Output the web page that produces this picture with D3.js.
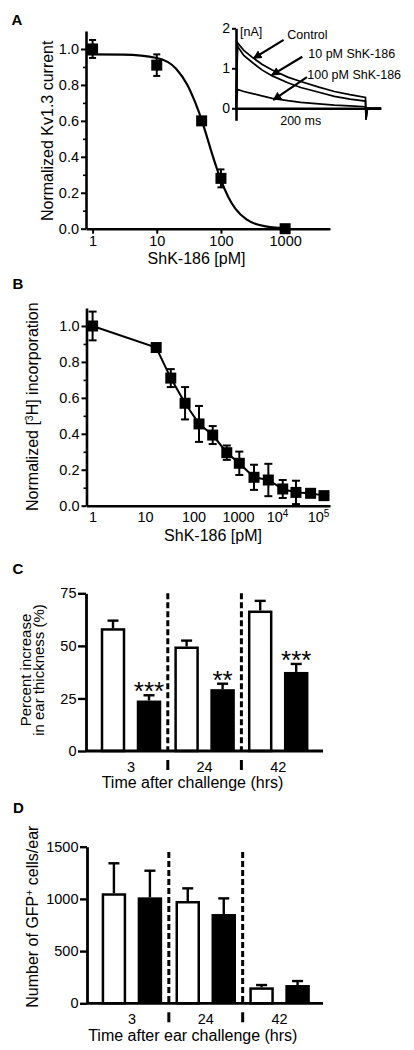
<!DOCTYPE html>
<html><head><meta charset="utf-8">
<script src="https://cdn.jsdelivr.net/npm/d3@7"></script>
<style>
body{margin:0;background:#fff;}
svg{display:block;background:#fff;}
</style></head><body>
<svg id="fig" width="414" height="1050"></svg>
<script>
// ================= DATA =================
// Panel A: Kv1.3 current vs ShK-186
const aConc = [1, 10, 50, 100, 1000];
const aCurrent = [1.0, 0.91, 0.60, 0.28, 0.0];
const aErr = [0.05, 0.06, 0, 0.05, 0];
const aFitConc = [0.79, 1, 3, 10, 20, 30, 40, 50, 60, 70, 85, 100, 130, 170, 250, 350, 500, 700, 1000];
const aFitCurrent = [0.97, 0.97, 0.968, 0.95, 0.89, 0.80, 0.70, 0.605, 0.515, 0.436, 0.342, 0.27, 0.177, 0.109, 0.052, 0.026, 0.013, 0.006, 0.003];
const aTicks = [1, 10, 100, 1000];
const aTickLabels = ["1", "10", "100", "1000"];
const normTicks = [0, 0.2, 0.4, 0.6, 0.8, 1.0];
const normTickLabels = ["0.0", "0.2", "0.4", "0.6", "0.8", "1.0"];
const normMinor = [0.1, 0.3, 0.5, 0.7, 0.9];

// Inset: current traces (nA) vs time (ms)
const insetTime    = [0, 3, 15, 34, 50, 70, 100, 125, 160, 190, 220, 250, 251, 254, 280];
const insetControl = [0, 1.64, 1.45, 1.25, 1.10, 0.96, 0.78, 0.67, 0.53, 0.42, 0.34, 0.27, -0.29, 0, 0];
const insetTen     = [0, 1.55, 1.32, 1.12, 0.96, 0.81, 0.64, 0.52, 0.40, 0.30, 0.23, 0.18, -0.27, 0, 0];
const insetHundred = [0, 0.47, 0.42, 0.36, 0.31, 0.25, 0.19, 0.15, 0.11, 0.08, 0.06, 0.04, -0.10, 0, 0];
const insetTicks = [0, 1, 2];
const insetLabels = ["Control", "10 pM ShK-186", "100 pM ShK-186"];
const insetLabelAt = [[99, 1.745], [139.6, 1.25], [137.6, 0.73]];   // (ms, nA)
const insetArrowFrom = [[92, 1.71], [128, 1.29], [137, 0.78]];
const insetArrowTo = [[34, 1.25], [69, 0.83], [72, 0.21]];

// Panel B: [3H] incorporation vs ShK-186
const bConc = [1, 17, 34, 67, 133, 270, 560, 1080, 2570, 6000, 13800, 29000, 66000, 140000];
const bValue = [1.0, 0.88, 0.71, 0.57, 0.455, 0.393, 0.295, 0.236, 0.158, 0.143, 0.093, 0.074, 0.069, 0.056];
const bErr = [0.08, 0, 0.05, 0.09, 0.10, 0.05, 0.04, 0.065, 0.07, 0.09, 0.05, 0.065, 0.015, 0];
const bTicks = [1, 10, 100, 1000, 1e4, 1e5];
const bTickBase = ["1", "10", "100", "1000", "10", "10"];
const bTickExp = ["", "", "", "", "4", "5"];

// Panels C & D: bar groups
const groups = ["3", "24", "42"];
const treatments = ["vehicle", "ShK-186"];
const cVehicle = [58.4, 49.7, 66.8];
const cVehicleErr = [3.6, 2.8, 4.6];
const cShK = [24.0, 29.4, 37.6];
const cShKErr = [2.5, 2.6, 3.8];
const cSig = ["***", "**", "***"];
const cTicks = [0, 25, 50, 75];
const dVehicle = [1054, 980, 153];
const dVehicleErr = [287, 121, 22];
const dShK = [1015, 855, 175];
const dShKErr = [255, 150, 38];
const dSig = ["", "", ""];
const dTicks = [0, 500, 1000, 1500];

// ================= DRAWING =================
const FONT = '"Liberation Sans", Arial, Helvetica, sans-serif';
const svg = d3.select("#fig").attr("font-family", FONT);

function styleAxis(g, fs, dw, tw) {
  g.attr("font-family", FONT).attr("font-size", fs);
  g.selectAll(".domain").attr("stroke", "#000").attr("stroke-width", dw);
  g.selectAll(".tick line").attr("stroke", "#000").attr("stroke-width", tw);
  g.selectAll(".tick text").attr("fill", "#000");
}
function panelLetter(t, x, y) {
  svg.append("text").attr("x", x).attr("y", y).attr("font-size", 15)
    .attr("font-weight", "bold").text(t);
}
function yTitle(lines, x, y, fs, gap) {
  const t = svg.append("text").attr("transform", `translate(${x},${y}) rotate(-90)`)
    .attr("text-anchor", "middle").attr("font-size", fs);
  lines.forEach((l, i) => {
    const ts = t.append("tspan").attr("x", 0).attr("dy", i === 0 ? 0 : gap);
    if (Array.isArray(l)) {
      l.forEach(p => {
        const s = ts.append("tspan").text(p.t);
        if (p.sup) s.attr("baseline-shift", "super").attr("font-size", fs * 0.65);
      });
    } else ts.text(l);
  });
  return t;
}
function xTitle(text, x, y, fs) {
  svg.append("text").attr("x", x).attr("y", y).attr("text-anchor", "middle")
    .attr("font-size", fs).text(text);
}

// ---------- Panel A ----------
const A = {left: 86, right: 330, top: 31, bottom: 228.7};
const xA = d3.scaleLog().domain([0.79, 5000]).range([A.left, A.right]);
const yA = d3.scaleLinear().domain([0, 1.1]).range([A.bottom, A.top]);

panelLetter("A", 11.5, 25);
svg.append("g").attr("transform", `translate(${A.left},0)`)
  .call(d3.axisLeft(yA).tickValues(normMinor).tickSize(3).tickFormat(""))
  .call(g => g.select(".domain").remove())
  .call(g => styleAxis(g, 14.5, 2.6, 1.6));
svg.append("g").attr("transform", `translate(${A.left},0)`)
  .call(d3.axisLeft(yA).tickValues(normTicks).tickFormat((d, i) => normTickLabels[i])
    .tickSize(5).tickPadding(2).tickSizeOuter(0))
  .call(g => styleAxis(g, 14.5, 2.6, 2));
svg.append("g").attr("transform", `translate(0,${A.bottom})`)
  .call(d3.axisBottom(xA).tickValues(aTicks).tickFormat((d, i) => aTickLabels[i])
    .tickSize(5).tickPadding(2).tickSizeOuter(0))
  .call(g => styleAxis(g, 14.5, 2.6, 2));

svg.append("path").datum(d3.zip(aFitConc, aFitCurrent))
  .attr("fill", "none").attr("stroke", "#000").attr("stroke-width", 2.2)
  .attr("d", d3.line().x(d => xA(d[0])).y(d => yA(d[1])).curve(d3.curveMonotoneX));

function errorMarks(xs, ys, es, xS, yS, cap) {
  xs.forEach((c, i) => {
    if (!es[i]) return;
    const x = xS(c);
    svg.append("line").attr("x1", x).attr("x2", x)
      .attr("y1", yS(ys[i] - es[i])).attr("y2", yS(ys[i] + es[i]))
      .attr("stroke", "#000").attr("stroke-width", 2);
    [ys[i] - es[i], ys[i] + es[i]].forEach(v => {
      svg.append("line").attr("x1", x - cap / 2).attr("x2", x + cap / 2)
        .attr("y1", yS(v)).attr("y2", yS(v)).attr("stroke", "#000").attr("stroke-width", 2);
    });
  });
}
function squares(xs, ys, xS, yS, s) {
  svg.append("g").selectAll("rect").data(d3.zip(xs, ys)).join("rect")
    .attr("x", d => xS(d[0]) - s / 2).attr("y", d => yS(d[1]) - s / 2)
    .attr("width", s).attr("height", s).attr("fill", "#000");
}
errorMarks(aConc, aCurrent, aErr, xA, yA, 7);
squares(aConc, aCurrent, xA, yA, 11);

yTitle(["Normalized Kv1.3 current"], 52.5, 130.8, 16, 0);
xTitle("ShK-186 [pM]", 196.5, 263.5, 16);

// ---------- Inset ----------
const xIn = d3.scaleLinear().domain([0, 280]).range([236, 381]);
const yIn = d3.scaleLinear().domain([-0.3, 2]).range([120.3, 28.3]);
svg.append("g").attr("transform", `translate(${xIn(0)},0)`)
  .call(d3.axisLeft(yIn).tickValues(insetTicks).tickFormat(d3.format("d"))
    .tickSize(4).tickPadding(2).tickSizeOuter(0))
  .call(g => styleAxis(g, 14, 2.6, 2));
svg.append("g").attr("transform", `translate(0,${yIn(0)})`)
  .call(d3.axisBottom(xIn).tickValues([]).tickSizeOuter(0))
  .call(g => styleAxis(g, 14, 2.4, 2));
const traceLine = d3.line().x(d => xIn(d[0])).y(d => yIn(d[1]));
[insetControl, insetTen, insetHundred].forEach(s => {
  svg.append("path").datum(d3.zip(insetTime, s)).attr("fill", "none")
    .attr("stroke", "#000").attr("stroke-width", 1.7).attr("d", traceLine);
});
svg.append("text").attr("x", xIn(0) + 4).attr("y", 36).attr("font-size", 12.5).text("[nA]");
svg.append("text").attr("x", xIn(125)).attr("y", 125).attr("text-anchor", "middle")
  .attr("font-size", 12.5).text("200 ms");
svg.append("defs").append("marker").attr("id", "arr").attr("viewBox", "0 0 10 10")
  .attr("refX", 9).attr("refY", 5).attr("markerWidth", 4).attr("markerHeight", 4)
  .attr("orient", "auto").attr("markerUnits", "strokeWidth")
  .append("path").attr("d", "M0,0L10,5L0,10Z").attr("fill", "#000");
insetLabels.forEach((l, i) => {
  svg.append("text").attr("x", xIn(insetLabelAt[i][0])).attr("y", yIn(insetLabelAt[i][1]))
    .attr("font-size", 12.5).text(l);
  svg.append("line").attr("x1", xIn(insetArrowFrom[i][0])).attr("y1", yIn(insetArrowFrom[i][1]))
    .attr("x2", xIn(insetArrowTo[i][0])).attr("y2", yIn(insetArrowTo[i][1]))
    .attr("stroke", "#000").attr("stroke-width", 2.2).attr("marker-end", "url(#arr)");
});

// ---------- Panel B ----------
const B = {left: 86.5, right: 330, top: 308, bottom: 505.7};
const xB = d3.scaleLog().domain([0.765, 1, 10, 100, 1000, 1e4, 1e5, 1.96e5])
  .range([86.5, 92.6, 145, 193.5, 238, 277, 318, 330]);
const yB = d3.scaleLinear().domain([0, 1.1]).range([B.bottom, B.top]);
panelLetter("B", 12.5, 288.5);
svg.append("g").attr("transform", `translate(${B.left},0)`)
  .call(d3.axisLeft(yB).tickValues(normMinor).tickSize(3).tickFormat(""))
  .call(g => g.select(".domain").remove())
  .call(g => styleAxis(g, 14.5, 2.6, 1.6));
svg.append("g").attr("transform", `translate(${B.left},0)`)
  .call(d3.axisLeft(yB).tickValues(normTicks).tickFormat((d, i) => normTickLabels[i])
    .tickSize(5).tickPadding(2).tickSizeOuter(0))
  .call(g => styleAxis(g, 14.5, 2.6, 2));
svg.append("g").attr("transform", `translate(0,${B.bottom})`)
  .call(d3.axisBottom(xB).tickValues(bTicks).tickFormat("").tickSize(0).tickPadding(6).tickSizeOuter(0))
  .call(g => styleAxis(g, 14.5, 2.6, 2))
  .call(g => g.selectAll(".tick text").each(function (d, i) {
    const t = d3.select(this);
    t.text(bTickBase[i]);
    if (bTickExp[i]) t.append("tspan").attr("dy", "-0.45em").attr("font-size", 10).text(bTickExp[i]);
  }));
svg.append("path").datum(d3.zip(bConc, bValue)).attr("fill", "none")
  .attr("stroke", "#000").attr("stroke-width", 2)
  .attr("d", d3.line().x(d => xB(d[0])).y(d => yB(d[1])));
errorMarks(bConc, bValue, bErr, xB, yB, 8);
squares(bConc, bValue, xB, yB, 11);
yTitle([[{t: "Normalized ["}, {t: "3", sup: true}, {t: "H] incorporation"}]], 38.3, 406.7, 16, 0);
xTitle("ShK-186 [pM]", 213, 541, 16);

// ---------- Panels C & D ----------
function barPanel(P, v1, e1, v2, e2, sig, yMax, yTicks, sepTop) {
  const x0 = d3.scaleBand().domain(groups).range([P.bandStart, P.bandEnd]);
  const x1 = d3.scaleBand().domain(treatments).range([-36, 36]).paddingInner(0.32).paddingOuter(0.16);
  const y = d3.scaleLinear().domain([0, yMax]).range([P.bottom, P.top]);
  const cx = g => x0(g) + x0.bandwidth() / 2;
  const bw = x1.bandwidth();

  // separators
  groups.slice(1).forEach(g => {
    const x = x0(g);
    svg.append("line").attr("x1", x).attr("x2", x).attr("y1", y(sepTop)).attr("y2", y(0))
      .attr("stroke", "#000").attr("stroke-width", 3).attr("stroke-dasharray", "6,3");
    svg.append("line").attr("x1", x).attr("x2", x).attr("y1", y(0) + 9).attr("y2", y(0) + 19)
      .attr("stroke", "#000").attr("stroke-width", 3);
  });

  groups.forEach((g, i) => {
    const xv = cx(g) + x1("vehicle"), xs = cx(g) + x1("ShK-186");
    // error bars
    [[xv, v1[i], e1[i]], [xs, v2[i], e2[i]]].forEach(([bx, v, e]) => {
      const m = bx + bw / 2;
      svg.append("line").attr("x1", m).attr("x2", m).attr("y1", y(v)).attr("y2", y(v + e))
        .attr("stroke", "#000").attr("stroke-width", 2.4);
      svg.append("line").attr("x1", m - 5.5).attr("x2", m + 5.5).attr("y1", y(v + e)).attr("y2", y(v + e))
        .attr("stroke", "#000").attr("stroke-width", 2.4);
    });
    svg.append("rect").attr("x", xv + 1.25).attr("y", y(v1[i]) + 1.25)
      .attr("width", bw - 2.5).attr("height", y(0) - y(v1[i]) - 1.25)
      .attr("fill", "#fff").attr("stroke", "#000").attr("stroke-width", 2.5);
    svg.append("rect").attr("x", xs).attr("y", y(v2[i]))
      .attr("width", bw).attr("height", y(0) - y(v2[i])).attr("fill", "#000");
    if (sig[i]) {
      svg.append("text").attr("x", xs + bw / 2).attr("y", y(v2[i] + e2[i]) + 5)
        .attr("text-anchor", "middle").attr("font-size", 26).text(sig[i]);
    }
  });

  // axes
  svg.append("g").attr("transform", `translate(${P.left},0)`)
    .call(d3.axisLeft(y).tickValues(yTicks).tickFormat(d3.format("d"))
      .tickSize(P.tick).tickPadding(1.5).tickSizeOuter(0))
    .call(g => styleAxis(g, 14.5, 2.8, 2.4));
  svg.append("g").attr("transform", `translate(0,${P.bottom})`)
    .call(d3.axisBottom(x0).tickSize(0).tickPadding(10.5))
    .call(g => g.select(".domain").remove())
    .call(g => styleAxis(g, 14.5, 2.8, 2));
  svg.append("line").attr("x1", P.left).attr("x2", P.right).attr("y1", y(0)).attr("y2", y(0))
    .attr("stroke", "#000").attr("stroke-width", 2.8);
}

const C = {left: 86, right: 323, top: 593.3, bottom: 751, bandStart: 94.2, bandEnd: 315, tick: 8};
panelLetter("C", 12.5, 573.5);
barPanel(C, cVehicle, cVehicleErr, cShK, cShKErr, cSig, 75, cTicks, 75);
yTitle(["Percent increase", "in ear thickness (%)"], 30.5, 670, 15, 13);
xTitle("Time after challenge (hrs)", 192.5, 788, 16);

const D = {left: 87, right: 323, top: 846.7, bottom: 1003.3, bandStart: 95, bandEnd: 316.5, tick: 7};
panelLetter("D", 13, 812.7);
barPanel(D, dVehicle, dVehicleErr, dShK, dShKErr, dSig, 1500, dTicks, 1450);
yTitle([[{t: "Number of GFP"}, {t: "+", sup: true}, {t: " cells/ear"}]], 38.3, 916.7, 16, 0);
xTitle("Time after ear challenge (hrs)", 192.8, 1041, 16);
</script>
</body></html>
